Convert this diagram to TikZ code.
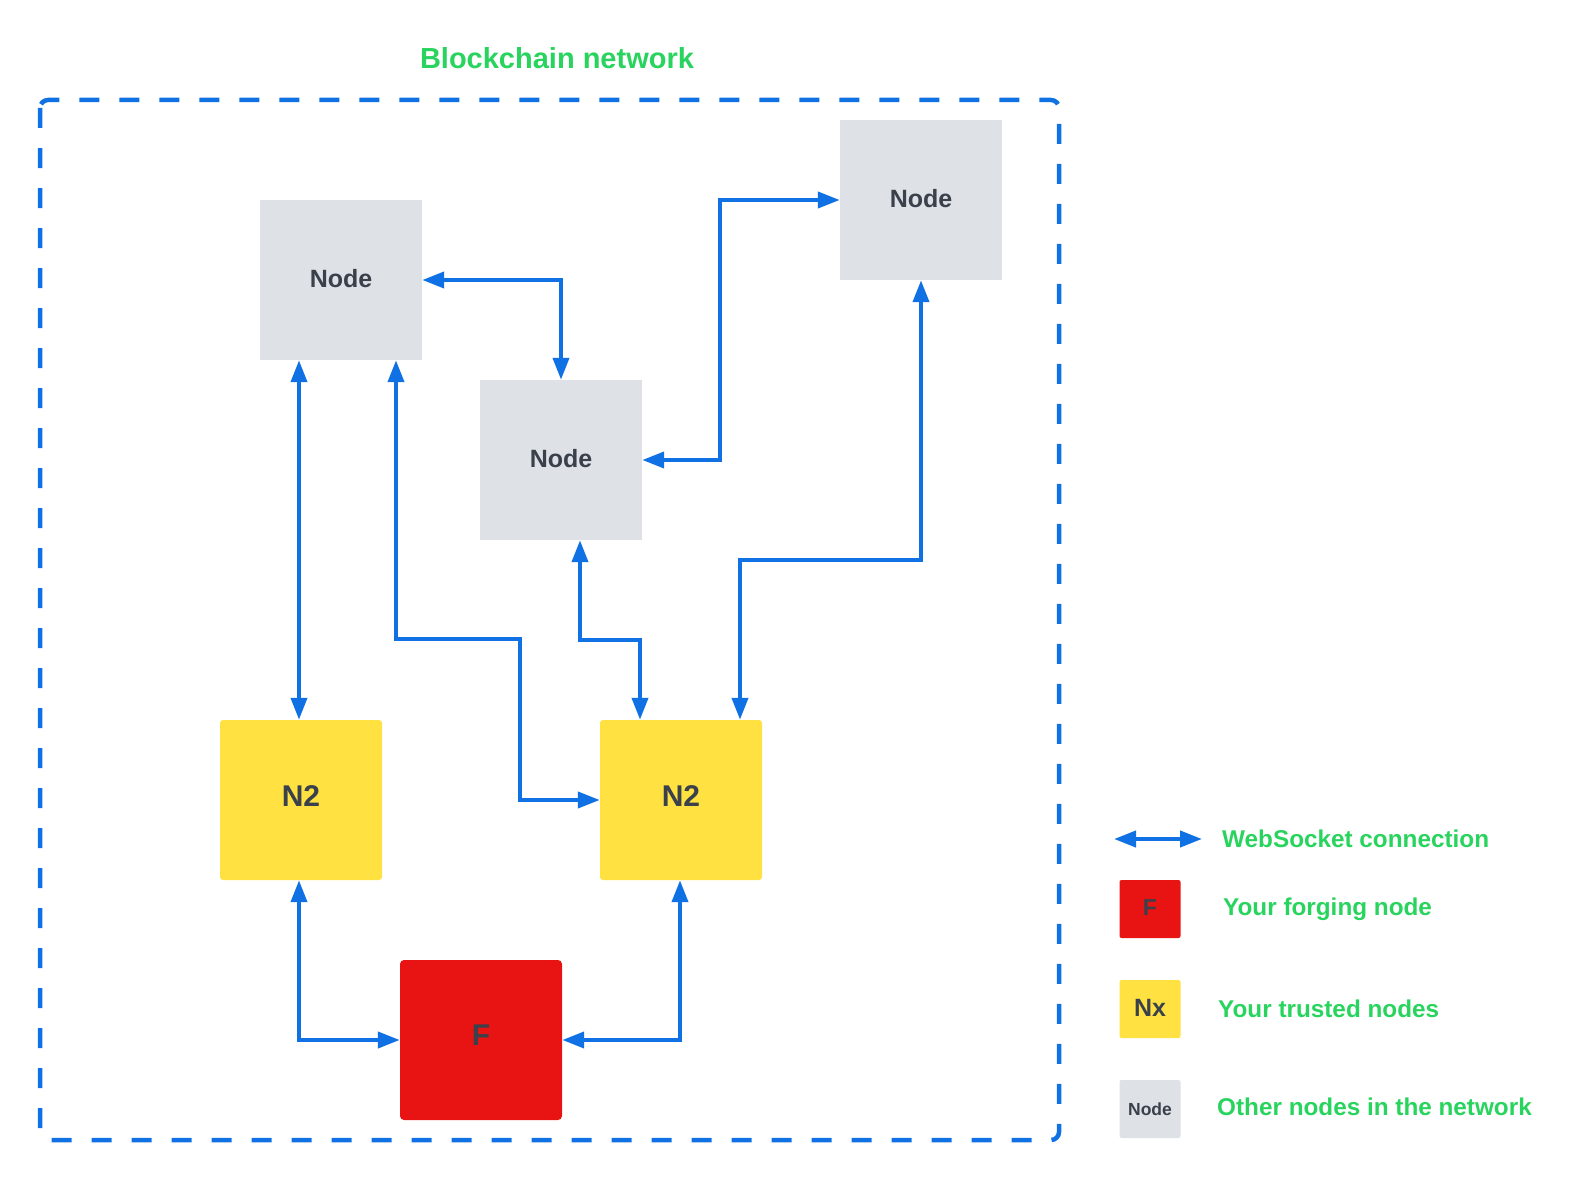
\documentclass[tikz,border=0pt]{standalone}
\usepackage{fontspec}
\setmainfont{Liberation Sans}
\usetikzlibrary{arrows.meta}
\definecolor{cblue}{RGB}{16,113,229}
\definecolor{cgreen}{RGB}{41,212,94}
\definecolor{cgray}{RGB}{222,225,230}
\definecolor{cyellow}{RGB}{255,226,66}
\definecolor{cred}{RGB}{232,20,20}
\definecolor{ctext}{RGB}{58,65,74}
\tikzset{
  box/.style={minimum width=162pt, minimum height=160pt, inner sep=0pt, text=ctext, font=\fontsize{25}{30}\selectfont\bfseries},
  graybox/.style={box, fill=cgray},
  yelbox/.style={box, fill=cyellow, rounded corners=3pt, font=\fontsize{30}{36}\selectfont\bfseries},
  redbox/.style={box, fill=cred, rounded corners=4pt, font=\fontsize{30}{36}\selectfont\bfseries},
  lbox/.style={minimum width=61pt, minimum height=58pt, inner sep=0pt, text=ctext, rounded corners=2pt},
  conn/.style={draw=cblue, line width=4pt, {Triangle[length=22pt,width=16pt]}-{Triangle[length=22pt,width=16pt]}},
  border/.style={draw=cblue, line width=4.5pt, dash pattern=on 20pt off 20pt, rounded corners=8pt},
  gtext/.style={text=cgreen, font=\fontsize{24.3}{28}\selectfont\bfseries, inner sep=0pt},
}
\begin{document}
\begin{tikzpicture}[x=1pt, y=-1pt]
\useasboundingbox (0,0) rectangle (1584,1180);
% title and border
\node[gtext, font=\fontsize{29}{33}\selectfont\bfseries, anchor=base] (title) at (557,69) {Blockchain network};
\draw[border] (40,100) rectangle (1059,1140);
% nodes
\node[graybox] (n1) at (341,280) {\raisebox{3pt}{Node}};
\node[graybox] (tr) at (921,200) {\raisebox{3pt}{Node}};
\node[graybox] (mid) at (561,460) {\raisebox{3pt}{Node}};
\node[yelbox] (n2l) at (301,800) {\raisebox{8pt}{N2}};
\node[yelbox] (n2r) at (681,800) {\raisebox{8pt}{N2}};
\node[redbox] (f) at (481,1040) {\raisebox{10pt}{F}};
% connectors
\draw[conn] (n1.east) -| (mid.north);
\draw[conn] (mid.east) -- ++(78,0) |- (tr.west);
\draw[conn] ([xshift=-42pt]n1.south) -- ([xshift=-2pt]n2l.north);
\draw[conn] ([xshift=55pt]n1.south) |- (520,639) |- (n2r.west);
\draw[conn] ([xshift=19pt]mid.south) -- ++(0,100) -| ([xshift=-41pt]n2r.north);
\draw[conn] ([xshift=59pt]n2r.north) -- ++(0,-160) -| (tr.south);
\draw[conn] ([xshift=-2pt]n2l.south) |- (f.west);
\draw[conn] ([xshift=-1pt]n2r.south) |- (f.east);
% legend
\coordinate (la) at (1114,839);
\coordinate (lb) at (1202,839);
\draw[conn] (la) -- (lb);
\node[lbox, fill=cred, font=\fontsize{23}{28}\selectfont\bfseries] (lf) at (1150,909) {\raisebox{2pt}{F}};
\node[lbox, fill=cyellow, font=\fontsize{25}{30}\selectfont\bfseries] (lnx) at (1150,1009) {\raisebox{2pt}{Nx}};
\node[lbox, fill=cgray, font=\fontsize{17.5}{21}\selectfont\bfseries] (lnode) at (1150,1109) {Node};
\node[gtext, anchor=base west] (t1) at (1222,847) {WebSocket connection};
\node[gtext, anchor=base west] (t2) at (1223,915) {Your forging node};
\node[gtext, anchor=base west] (t3) at (1218,1017) {Your trusted nodes};
\node[gtext, anchor=base west] (t4) at (1217,1115) {Other nodes in the network};
\end{tikzpicture}
\end{document}
